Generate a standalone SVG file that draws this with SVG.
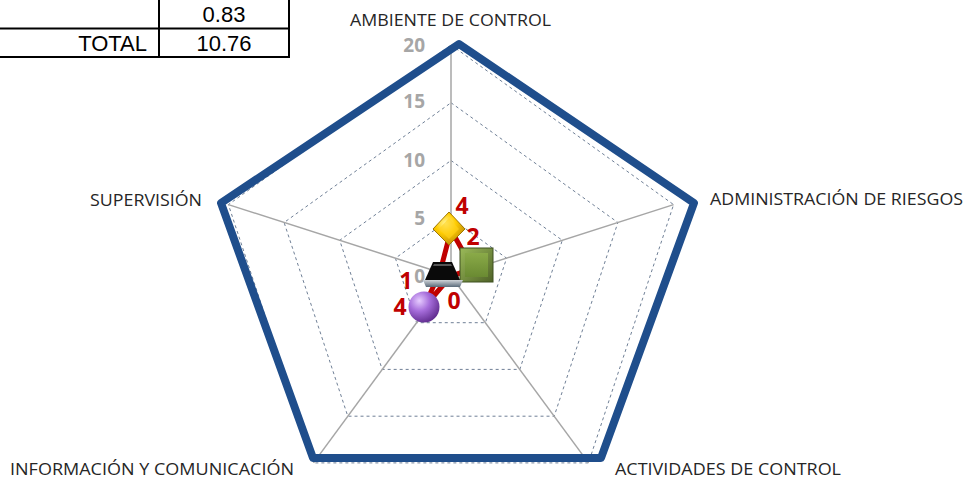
<svg xmlns="http://www.w3.org/2000/svg" width="975" height="479" viewBox="0 0 975 479">
<defs>
<style>
.cell{font-family:"Liberation Sans",Arial,sans-serif;font-size:22px;fill:#000}
.axl{font-family:"Open Sans","Noto Sans",sans-serif;font-size:17px;fill:#262626}
.scl{font-family:"Open Sans","Noto Sans",sans-serif;font-size:19px;font-weight:bold;fill:#A6A6A6}
.dl{font-family:"Open Sans","Noto Sans",sans-serif;font-size:23px;font-weight:bold;fill:#C00000}
.axis{stroke:#A6A6A6;stroke-width:1.5;fill:none}
.grid{stroke:#6F7F96;stroke-width:1;stroke-dasharray:3 3;fill:none}
.tb{stroke:#000;stroke-width:2;fill:none}
</style>
<radialGradient id="gold" cx="0.4" cy="0.35" r="0.7">
<stop offset="0" stop-color="#FFF59A"/><stop offset="0.45" stop-color="#FFCC00"/><stop offset="1" stop-color="#B8860B"/>
</radialGradient>
<linearGradient id="green" x1="0" y1="0" x2="1" y2="1">
<stop offset="0" stop-color="#9BBB59"/><stop offset="1" stop-color="#4F6228"/>
</linearGradient>
<linearGradient id="greenin" x1="0" y1="0" x2="0" y2="1">
<stop offset="0" stop-color="#8AAA48"/><stop offset="1" stop-color="#6A8A32"/>
</linearGradient>
<radialGradient id="purple" cx="0.35" cy="0.3" r="0.75">
<stop offset="0" stop-color="#E6CCFF"/><stop offset="0.45" stop-color="#A66DDB"/><stop offset="1" stop-color="#5E2A8C"/>
</radialGradient>
<linearGradient id="plate" x1="0" y1="0" x2="0" y2="1">
<stop offset="0" stop-color="#D0D4D8"/><stop offset="1" stop-color="#5A6A7A"/>
</linearGradient>
</defs>
<rect width="975" height="479" fill="#fff"/>

<g id="table">
<line class="tb" x1="159" y1="0" x2="159" y2="58"/>
<line class="tb" x1="289" y1="0" x2="289" y2="58"/>
<line class="tb" x1="0" y1="28.5" x2="289" y2="28.5"/>
<line class="tb" x1="0" y1="57" x2="289" y2="57"/>
<text class="cell" x="224" y="22" text-anchor="middle">0.83</text>
<text class="cell" x="147" y="51" text-anchor="end">TOTAL</text>
<text class="cell" x="224" y="51" text-anchor="middle">10.76</text>
</g>

<g id="grid">
<polygon class="grid" points="451,218.25 506.6,258.2 485.4,322.7 416.6,322.7 395.4,258.2"/>
<polygon class="grid" points="451,160.5 562.3,240.3 519.8,369.4 382.2,369.4 339.7,240.3"/>
<polygon class="grid" points="451,102.75 617.9,222.5 554.2,416.2 347.8,416.2 284.1,222.5"/>
<polygon class="grid" points="451,45 673.6,204.6 588.5,462.9 313.5,462.9 228.4,204.6"/>
<line class="axis" x1="451" y1="276" x2="451" y2="45"/>
<line class="axis" x1="451" y1="276" x2="673.6" y2="204.6"/>
<line class="axis" x1="451" y1="276" x2="588.5" y2="462.9"/>
<line class="axis" x1="451" y1="276" x2="313.5" y2="462.9"/>
<line class="axis" x1="451" y1="276" x2="228.4" y2="204.6"/>
</g>

<g id="scale">
<text class="scl" x="425" y="52" text-anchor="end">20</text>
<text class="scl" x="425" y="108" text-anchor="end">15</text>
<text class="scl" x="425" y="167" text-anchor="end">10</text>
<text class="scl" x="425" y="225" text-anchor="end">5</text>
<text class="scl" x="425" y="283" text-anchor="end">0</text>
</g>

<g id="outline">
<polygon points="459,44 694,203 601,458 313,458 221,203" fill="none" stroke="#1F4E8C" stroke-width="8" stroke-linejoin="round"/>
</g>

<g id="connectors">
<polygon points="451,230 473,269 451,276 424,307 440,272" fill="none" stroke="#C00000" stroke-width="5" stroke-linejoin="round"/>
</g>

<g id="markers">
<g id="marker-ambiente">
<polygon points="449,212 465,229 449,245 433,229" fill="url(#gold)" stroke="#A07800" stroke-width="1"/>
<polygon points="449,218 459,229 449,239 439,229" fill="#FFD21F" opacity="0.6"/>
</g>
<g id="marker-riesgos">
<rect x="460" y="248" width="33" height="34" fill="url(#green)" stroke="#3F5020" stroke-width="1"/>
<rect x="465" y="253" width="23" height="24" fill="url(#greenin)"/>
</g>
<g id="marker-actividades">
<polygon points="423,280 463,280 460,287 426,287" fill="url(#plate)"/>
<polygon points="433,262 452,262 460,280 425,280" fill="#0A0A0A"/>
<polygon points="434,264 451,264 452,266 433,266" fill="#555"/>
</g>
<g id="marker-informacion">
<circle cx="424" cy="307" r="15.5" fill="url(#purple)"/>
</g>
</g>

<g id="data-labels">
<text class="dl" x="462" y="214" text-anchor="middle">4</text>
<text class="dl" x="473" y="245" text-anchor="middle">2</text>
<text class="dl" x="406" y="289" text-anchor="middle">1</text>
<text class="dl" x="400" y="315" text-anchor="middle">4</text>
<text class="dl" x="454" y="309" text-anchor="middle">0</text>
</g>

<g id="axis-labels">
<text class="axl" x="350" y="26" textLength="201" lengthAdjust="spacingAndGlyphs">AMBIENTE DE CONTROL</text>
<text class="axl" x="710" y="205" textLength="253" lengthAdjust="spacingAndGlyphs">ADMINISTRACIÓN DE RIESGOS</text>
<text class="axl" x="615" y="475" textLength="226" lengthAdjust="spacingAndGlyphs">ACTIVIDADES DE CONTROL</text>
<text class="axl" x="10" y="475" textLength="284" lengthAdjust="spacingAndGlyphs">INFORMACIÓN Y COMUNICACIÓN</text>
<text class="axl" x="90" y="206" textLength="112" lengthAdjust="spacingAndGlyphs">SUPERVISIÓN</text>
</g>
</svg>
